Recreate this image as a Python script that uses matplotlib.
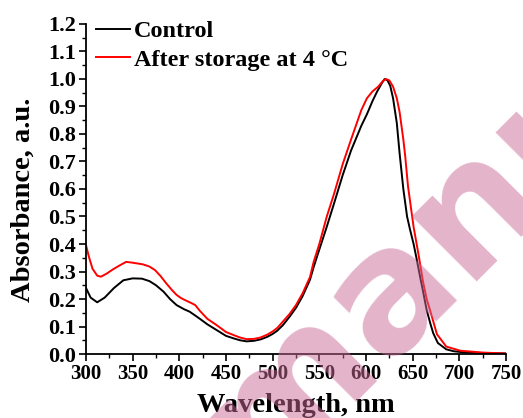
import matplotlib
matplotlib.use("Agg")
import matplotlib.pyplot as plt
from matplotlib.ticker import MultipleLocator, FormatStrFormatter

# absorbance spectra
control_nm = [300, 305, 312, 320, 330, 340, 350, 360, 368, 375, 383, 390, 397, 405,
              411, 417, 422, 430, 440, 450, 458, 465, 472, 480, 487, 494, 500, 505,
              511, 518, 525, 532, 540, 544, 550, 558, 566, 575, 584, 595, 601, 607,
              612, 617, 620, 623, 626, 629, 633, 636, 640, 644, 647, 651, 654, 658,
              661, 665, 669, 672, 677, 686, 694, 708, 730, 750]
control_abs = [0.240, 0.205, 0.188, 0.205, 0.240, 0.268, 0.275, 0.274, 0.265, 0.250,
               0.227, 0.200, 0.178, 0.163, 0.154, 0.140, 0.128, 0.108, 0.087, 0.066,
               0.057, 0.050, 0.046, 0.048, 0.053, 0.062, 0.073, 0.085, 0.105, 0.135,
               0.168, 0.210, 0.270, 0.317, 0.380, 0.463, 0.550, 0.650, 0.740, 0.830,
               0.872, 0.920, 0.955, 0.985, 1.000, 0.995, 0.975, 0.930, 0.840, 0.730,
               0.600, 0.500, 0.455, 0.400, 0.350, 0.280, 0.230, 0.160, 0.110, 0.076,
               0.040, 0.017, 0.010, 0.005, 0.003, 0.002]

stored_nm = [300, 303, 307, 312, 316, 322, 329, 336, 343, 350, 361, 368, 374, 380,
             386, 392, 397, 402, 408, 413, 417, 422, 430, 440, 450, 458, 465, 472,
             480, 487, 494, 500, 505, 511, 518, 525, 532, 540, 544, 550, 558, 566,
             575, 584, 595, 601, 607, 613, 618, 621, 625, 629, 633, 636, 640, 642,
             645, 651, 656, 661, 665, 669, 676, 686, 701, 726, 750]
stored_abs = [0.396, 0.355, 0.310, 0.285, 0.281, 0.292, 0.308, 0.322, 0.335, 0.332,
              0.326, 0.318, 0.305, 0.283, 0.257, 0.233, 0.215, 0.203, 0.193, 0.185,
              0.178, 0.157, 0.128, 0.105, 0.080, 0.069, 0.060, 0.054, 0.055, 0.060,
              0.070, 0.082, 0.095, 0.118, 0.145, 0.178, 0.220, 0.280, 0.336, 0.400,
              0.500, 0.585, 0.690, 0.780, 0.887, 0.930, 0.955, 0.972, 0.992, 1.000,
              0.995, 0.972, 0.930, 0.880, 0.780, 0.720, 0.610, 0.462, 0.367, 0.265,
              0.200, 0.155, 0.072, 0.027, 0.012, 0.005, 0.002]

SERIF = "Liberation Serif"
WATERMARK = "#c8699680"

fig = plt.figure(figsize=(5.23, 4.18), dpi=100)
ax = fig.add_axes([0.1644, 0.1531, 0.8031, 0.7895])

ax.plot(control_nm, control_abs, color="black", linewidth=1.4, label="Control")
ax.plot(stored_nm, stored_abs, color="#ff0000", linewidth=1.4,
        label="After storage at 4 \u00b0C")

ax.set_xlim(300, 750)
ax.set_ylim(0, 1.2)
ax.xaxis.set_major_locator(MultipleLocator(50))
ax.xaxis.set_minor_locator(MultipleLocator(25))
ax.yaxis.set_major_locator(MultipleLocator(0.1))
ax.yaxis.set_minor_locator(MultipleLocator(0.05))
ax.yaxis.set_major_formatter(FormatStrFormatter("%.1f"))

for side in ("top", "right"):
    ax.spines[side].set_visible(False)
for side in ("left", "bottom"):
    ax.spines[side].set_linewidth(1.3)

ax.tick_params(which="major", direction="out", length=5, width=1.2, pad=2)
ax.tick_params(which="minor", direction="out", length=3, width=1.0)
for lab in ax.get_xticklabels():
    lab.set_fontfamily(SERIF)
    lab.set_fontweight("bold")
    lab.set_fontsize(15)
for lab in ax.get_yticklabels():
    lab.set_fontfamily(SERIF)
    lab.set_fontweight("bold")
    lab.set_fontsize(16)

ax.set_xlabel("Wavelength, nm", family=SERIF, fontweight="bold", fontsize=20.5,
              labelpad=7)
ax.set_ylabel("Absorbance, a.u.", family=SERIF, fontweight="bold", fontsize=20.5)
ax.yaxis.set_label_coords(-0.12, 0.467)

ax.legend(loc="upper left", bbox_to_anchor=(-0.004, 1.048), frameon=False,
          prop={"family": SERIF, "weight": "bold", "size": 17.5},
          handlelength=1.4, handletextpad=0.15, labelspacing=0.26, borderpad=0)

# diagonal preprint watermark laid over the plot
fig.text(0.495, -0.160, "manuscript", rotation=45, rotation_mode="anchor",
         ha="left", va="baseline", family="DejaVu Sans", fontweight="bold",
         fontsize=121, color=WATERMARK, zorder=10)

fig.savefig("out.png", dpi=100)
